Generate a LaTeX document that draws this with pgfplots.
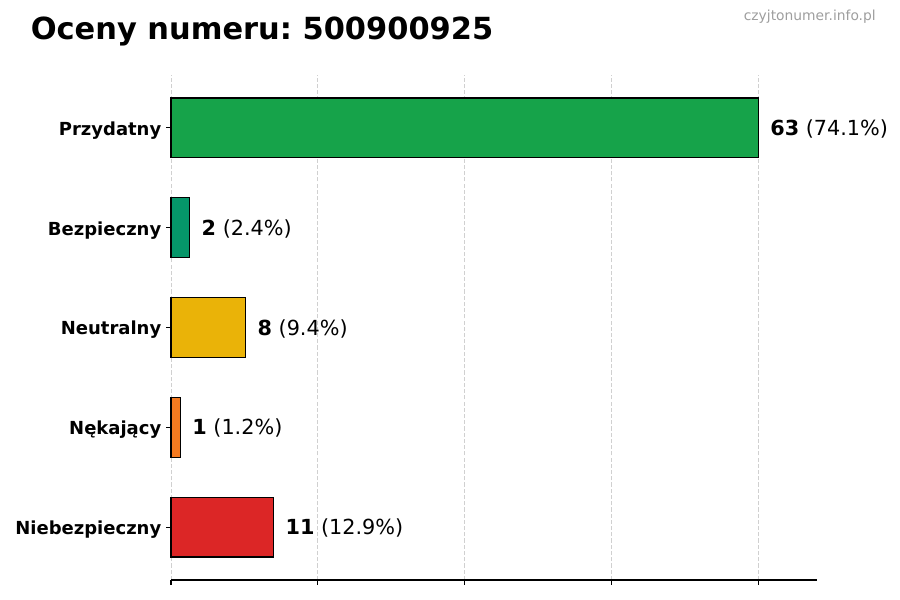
\documentclass[border=0pt]{standalone}
\usepackage{pgfplots}
\pgfplotsset{compat=1.18}
\usepackage{fontspec}
\setmainfont{DejaVu Sans}
\frenchspacing

\definecolor{przyd}{HTML}{16A34A}
\definecolor{bezp}{HTML}{059669}
\definecolor{neut}{HTML}{EAB308}
\definecolor{nekaj}{HTML}{F47A20}
\definecolor{niebezp}{HTML}{DC2626}
\definecolor{gridc}{HTML}{D0D0D0}

\begin{document}
\begin{tikzpicture}
\path[use as bounding box] (0,0) rectangle (9in,6in);
\node[anchor=west,font=\fontsize{22}{26}\selectfont\bfseries,inner sep=0pt] at (0.305in,5.69in) {Oceny numeru: 500900925};
\node[anchor=east,text=black!38,font=\fontsize{10}{12}\selectfont,inner sep=0pt] at (8.76in,5.83in) {czyjtonumer.info.pl};
\begin{axis}[
  at={(1.71in,0.2in)}, anchor=south west,
  scale only axis, width=6.46in, height=5.05in,
  xbar, bar shift=0pt, bar width=0.6,
  xmin=0, xmax=69.3, ymin=-0.53, ymax=4.53,
  clip=false,
  axis x line*=bottom, axis y line*=left,
  y axis line style={draw=none},
  x axis line style={line width=0.8pt},
  xtick={0,15.75,31.5,47.25,63}, xticklabels={},
  ytick={0,1,2,3,4},
  yticklabels={Niebezpieczny,Nękający,Neutralny,Bezpieczny,Przydatny},
  yticklabel style={font=\fontsize{13}{15}\selectfont\bfseries,yshift=-1.8pt},
  tick align=outside, major tick length=3.5pt,
  tick style={black,line width=0.8pt},
  xmajorgrids,
  grid style={gridc,line width=0.6pt,dash pattern=on 3pt off 1.5pt},
  every node near coord/.append style={font=\fontsize{15}{18}\selectfont,xshift=5pt,yshift=-0.8pt,text=black},
  every axis plot/.append style={draw=black,line width=0.8pt},
]
\addplot[fill=niebezp,nodes near coords={\textbf{11} (12.9\%)}] coordinates {(11,0)};
\addplot[fill=nekaj,nodes near coords={\textbf{1} (1.2\%)}] coordinates {(1,1)};
\addplot[fill=neut,nodes near coords={\textbf{8} (9.4\%)}] coordinates {(8,2)};
\addplot[fill=bezp,nodes near coords={\textbf{2} (2.4\%)}] coordinates {(2,3)};
\addplot[fill=przyd,nodes near coords={\textbf{63} (74.1\%)}] coordinates {(63,4)};
\end{axis}
\end{tikzpicture}
\end{document}
